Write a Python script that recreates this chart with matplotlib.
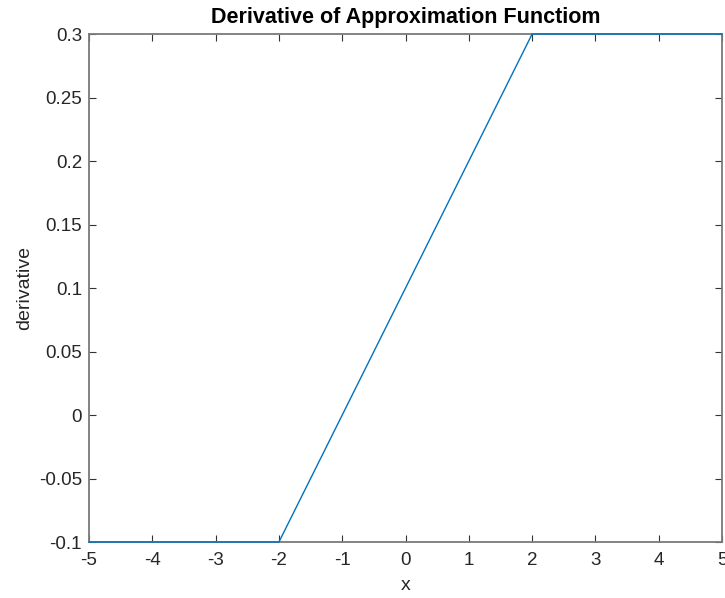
import matplotlib.pyplot as plt
import numpy as np

plt.rcParams['font.family'] = ['Liberation Sans', 'DejaVu Sans']

# piecewise-linear derivative: flat, ramp, flat
x = [-5, -2, 2, 5]
deriv = [-0.1, -0.1, 0.3, 0.3]

xticks = [-5, -4, -3, -2, -1, 0, 1, 2, 3, 4, 5]
yticks = [-0.1, -0.05, 0, 0.05, 0.1, 0.15, 0.2, 0.25, 0.3]
yticklabels = ['-0.1', '-0.05', '0', '0.05', '0.1', '0.15', '0.2', '0.25', '0.3']

fig = plt.figure(figsize=(7.25, 5.98), dpi=100)
ax = fig.add_axes([0.1228, 0.0936, 0.8731, 0.8495])

ax.plot(x, deriv, color='#0072BD', lw=1.0, clip_on=False, zorder=3)

ax.set_xlim(-5, 5)
ax.set_ylim(-0.1, 0.3)
ax.set_xticks(xticks)
ax.set_xticklabels([str(t) for t in xticks])
ax.set_yticks(yticks)
ax.set_yticklabels(yticklabels)

axcol = '#7a7a7a'
for s in ax.spines.values():
    s.set_color(axcol)
    s.set_linewidth(1.3)
ax.tick_params(direction='in', top=True, right=True, length=5, width=0.8,
               color='#333333', labelsize=13.5, labelcolor='#262626', pad=5)
ax.tick_params(axis='x', pad=7)

ax.set_xlabel('x', fontsize=14, color='#262626', labelpad=6)
ax.set_ylabel('derivative', fontsize=14, color='#262626', labelpad=4)
ax.set_title('Derivative of Approximation Functiom', fontsize=15.5,
             fontweight='bold', pad=8)

fig.savefig('out.png', dpi=100)
